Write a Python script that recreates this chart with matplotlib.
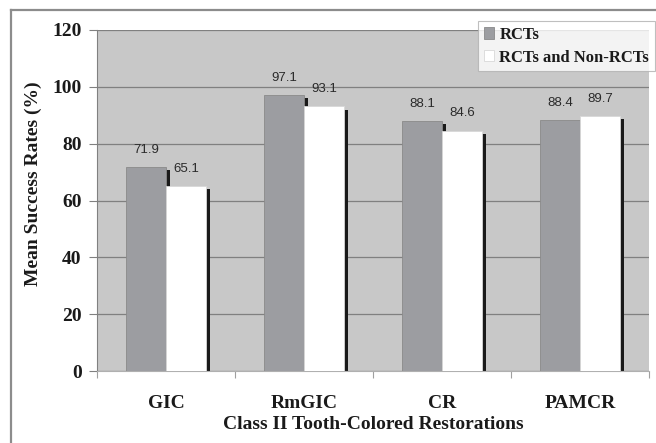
import numpy as np
import matplotlib.pyplot as plt
from matplotlib.lines import Line2D

# Mean success rates per restoration type
categories = ["GIC", "RmGIC", "CR", "PAMCR"]
rcts = [71.9, 97.1, 88.1, 88.4]
rcts_non = [65.1, 93.1, 84.6, 89.7]
series_names = ["RCTs", "RCTs and Non-RCTs"]
yticks = [0, 20, 40, 60, 80, 100, 120]

serif = ["Liberation Serif", "DejaVu Serif"]
sans = ["Liberation Sans", "DejaVu Sans"]

fig = plt.figure(figsize=(6.56, 4.43), dpi=100, facecolor="white")
ax = fig.add_axes([97/656, 1-371/443, 552/656, 341/443])
ax.set_facecolor("#c8c8c8")

x = np.arange(len(categories)) + 0.5
w = 0.29
sw = 0.032   # width of the black side
dy = 1.1     # side starts a bit below the top

gray = "#9c9da1"
white = "#ffffff"

# black 3D side of each bar
ax.bar(x, np.array(rcts) - dy, width=sw, align="edge", color="#1a1a1a", zorder=2)
ax.bar(x + w, np.array(rcts_non) - dy, width=sw, align="edge", color="#1a1a1a", zorder=2)

b1 = ax.bar(x - w, rcts, width=w, align="edge", color=gray, edgecolor="#8a8a8a",
            linewidth=0.6, zorder=3, label=series_names[0])
b2 = ax.bar(x, rcts_non, width=w, align="edge", color=white, edgecolor="#d8d8d8",
            linewidth=0.6, zorder=3, label=series_names[1])

for xs, vals in [(x - w/2, rcts), (x + w/2, rcts_non)]:
    for xi, v in zip(xs, vals):
        ax.annotate(f"{v:.1f}", (xi, v), xytext=(0, 8), textcoords="offset points",
                    ha="center", va="bottom", fontsize=9.5, color="#2a2a2a", family=sans)

ax.set_xlim(0, 4)
ax.set_ylim(0, 120)
ax.set_yticks(yticks)
ax.yaxis.grid(True, color="#808080", linewidth=0.9, zorder=1)
ax.set_axisbelow(True)

ax.set_xticks(x)
ax.set_xticklabels(categories)
ax.set_xticks(np.arange(5), minor=True)
ax.tick_params(axis="x", which="major", length=0, pad=17)
ax.tick_params(axis="x", which="minor", length=5, color="#a0a0a0", width=0.8)
ax.tick_params(axis="y", length=6, color="#808080", width=0.8, pad=5)
for lab in ax.get_xticklabels() + ax.get_yticklabels():
    lab.set_fontfamily(serif)
    lab.set_fontweight("bold")
    lab.set_fontsize(14)
    lab.set_color("#1a1a1a")

for s in ["top", "right"]:
    ax.spines[s].set_visible(False)
ax.spines["left"].set_color("#808080")
ax.spines["left"].set_linewidth(0.8)
ax.spines["bottom"].set_color("#b0b0b0")
ax.spines["bottom"].set_linewidth(0.8)

ax.set_ylabel("Mean Success Rates (%)", family=serif, fontweight="bold",
              fontsize=14, color="#1a1a1a")
ax.yaxis.set_label_coords(-0.099, 0.548)
ax.set_xlabel("Class II Tooth-Colored Restorations", family=serif, fontweight="bold",
              fontsize=14, color="#1a1a1a", labelpad=3)

leg = fig.legend(handles=[b1, b2], loc="upper right",
                 bbox_to_anchor=(655/656, 1-21/443),
                 prop={"family": serif, "weight": "bold", "size": 12},
                 frameon=True, fancybox=False, edgecolor="#b0b0b0",
                 handlelength=0.65, handleheight=0.65, handletextpad=0.3,
                 borderpad=0.35, labelspacing=0.4, borderaxespad=0)
leg.get_frame().set_linewidth(0.8)
for t in leg.get_texts():
    t.set_color("#1a1a1a")

# outer frame
fx = 11/656
fy = 1 - 10/443
fig.add_artist(Line2D([fx, 1], [fy, fy], color="#8c8c8c", lw=1.6))
fig.add_artist(Line2D([fx, fx], [0, fy], color="#8c8c8c", lw=1.6))

fig.savefig("out.png", dpi=100)
